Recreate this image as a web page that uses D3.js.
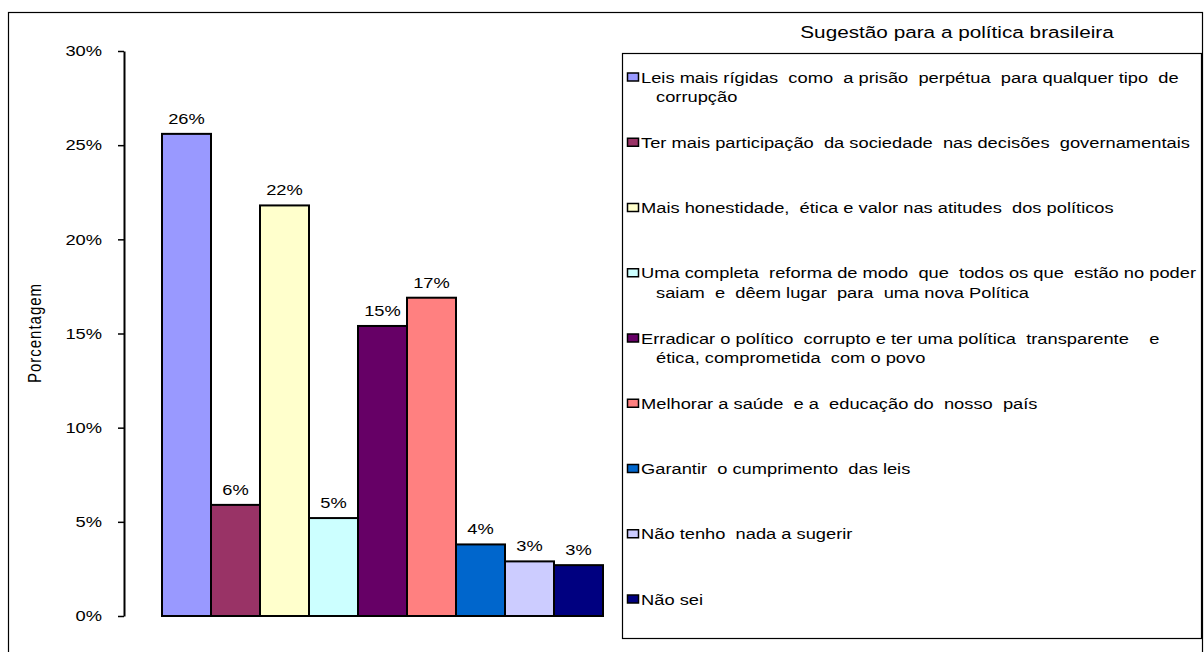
<!DOCTYPE html>
<html>
<head>
<meta charset="utf-8">
<script src="https://cdn.jsdelivr.net/npm/d3@7"></script>
<style>
  html, body { margin: 0; padding: 0; background: #fff; }
  svg { display: block; font-family: "Liberation Sans", Arial, sans-serif; }
  text { white-space: pre; fill: #000; }
</style>
</head>
<body>
<svg id="chart" width="1204" height="652"></svg>
<script>
// Survey answers: suggestions for Brazilian politics (share of respondents)
const categories = [
  "Leis mais rígidas  como  a prisão  perpétua  para qualquer tipo  de\ncorrupção",
  "Ter mais participação  da sociedade  nas decisões  governamentais",
  "Mais honestidade,  ética e valor nas atitudes  dos políticos",
  "Uma completa  reforma de modo  que  todos os que  estão no poder\nsaiam  e  dêem lugar  para  uma nova Política",
  "Erradicar o político  corrupto e ter uma política  transparente    e\nética, comprometida  com o povo",
  "Melhorar a saúde  e a  educação do  nosso  país",
  "Garantir  o cumprimento  das leis",
  "Não tenho  nada a sugerir",
  "Não sei"
];
const values = [0.256, 0.059, 0.218, 0.052, 0.154, 0.169, 0.038, 0.029, 0.027];
const colors = ["#9999FF", "#993366", "#FFFFCC", "#CCFFFF", "#660066", "#FF8080", "#0066CC", "#CCCCFF", "#000080"];
const yTicks = [0, 0.05, 0.10, 0.15, 0.20, 0.25, 0.30];
const legendTitle = "Sugestão para a política brasileira";
const yTitle = "Porcentagem";

const SX = 1.22;          // horizontal stretch applied to all labels
const FS = 15;            // font size
const pct = d3.format(".0%");

const svg = d3.select("#chart");

// outer chart frame (runs past the bottom edge)
svg.append("rect")
  .attr("x", 8.5).attr("y", 12.5)
  .attr("width", 1194).attr("height", 680)
  .attr("fill", "none").attr("stroke", "#000").attr("stroke-width", 1.2);

const y = d3.scaleLinear().domain([0, 0.30]).range([616, 51]);
const x = d3.scaleBand().domain(d3.range(categories.length)).range([162, 603]).padding(0);

function label(g, px, py, str, anchor, size) {
  return g.append("text")
    .attr("transform", `translate(${px},${py}) scale(${SX},1)`)
    .attr("text-anchor", anchor || "start")
    .attr("font-size", size || FS)
    .text(str);
}

// y axis
const yAxis = svg.append("g")
  .attr("transform", "translate(124,0)")
  .call(d3.axisLeft(y).tickValues(yTicks).tickFormat(pct)
    .tickSize(6).tickSizeOuter(0).tickPadding(16));
yAxis.select(".domain").attr("stroke", "#000").attr("stroke-width", 2);
yAxis.selectAll(".tick line").attr("stroke", "#000").attr("stroke-width", 1.5);
yAxis.selectAll(".tick text")
  .attr("font-size", FS)
  .attr("font-family", "Liberation Sans, Arial, sans-serif")
  .attr("fill", "#000")
  .each(function () {
    const t = d3.select(this);
    const tx = +t.attr("x");
    t.attr("x", null).attr("transform", `translate(${tx},0) scale(${SX},1)`);
  });

// y axis title
svg.append("text")
  .attr("transform", "translate(41,333) rotate(-90) scale(1," + SX + ")")
  .attr("text-anchor", "middle")
  .attr("font-size", FS)
  .attr("letter-spacing", 1)
  .text(yTitle);

// bars
svg.append("g").selectAll("rect")
  .data(values)
  .join("rect")
  .attr("x", (d, i) => x(i))
  .attr("y", d => y(d))
  .attr("width", x.bandwidth())
  .attr("height", d => y(0) - y(d))
  .attr("fill", (d, i) => colors[i])
  .attr("stroke", "#000")
  .attr("stroke-width", 2);

// value labels
const valG = svg.append("g");
values.forEach((v, i) => {
  label(valG, x(i) + x.bandwidth() / 2, y(v) - 10, pct(v), "middle");
});

// legend title
label(svg, 957, 38, legendTitle, "middle", 17);

// legend box
svg.append("rect")
  .attr("x", 622.5).attr("y", 53.5)
  .attr("width", 579).attr("height", 585)
  .attr("fill", "none").attr("stroke", "#000").attr("stroke-width", 1.2);

const legG = svg.append("g");
const legY = d3.scaleLinear().domain([0, categories.length - 1]).range([77, 599]);
categories.forEach((c, i) => {
  const cy = legY(i);
  legG.append("rect")
    .attr("x", 627.5).attr("y", cy - 4)
    .attr("width", 11).attr("height", 8)
    .attr("fill", colors[i]).attr("stroke", "#000").attr("stroke-width", 1.5);
  c.split("\n").forEach((line, j) => {
    label(legG, j === 0 ? 641 : 656, cy + 5.5 + j * 19.5, line, "start");
  });
});
</script>
</body>
</html>
